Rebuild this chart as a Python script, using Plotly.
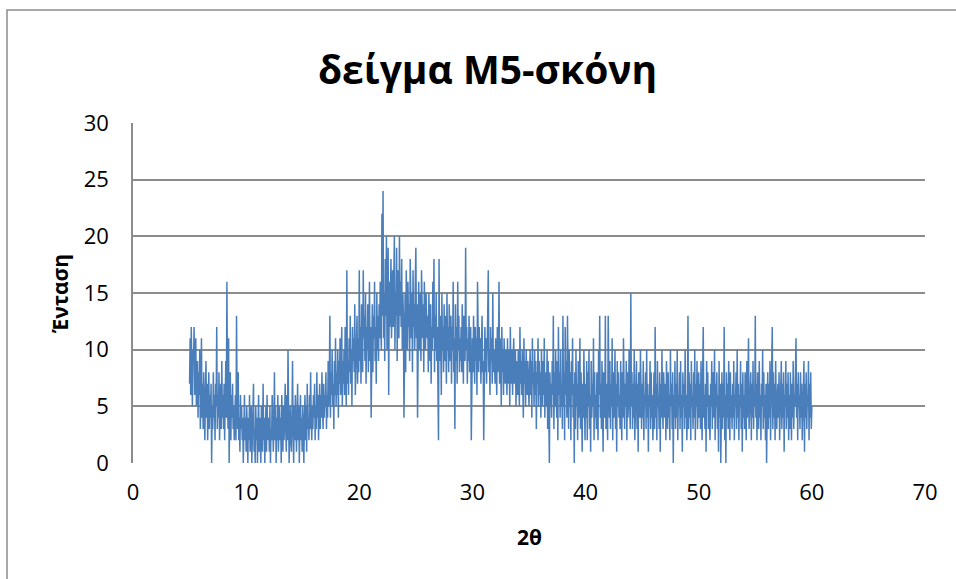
import plotly.graph_objects as go

# Scan settings (2θ grid)
start_2theta = 5.0
step_2theta = 0.05

# Intensity readings, one row per degree of 2θ (20 readings per row)
rows = [
    [7,11,6,12,8,5,10,9,12,6,8,11,5,7,9,4,8,6,10,3],          # 5
    [5,11,4,7,3,8,5,2,6,9,4,7,2,5,8,3,6,4,7,0],               # 6
    [5,3,8,4,6,2,7,5,12,3,6,4,8,2,5,7,3,9,4,6],               # 7
    [3,7,2,5,9,4,16,6,3,11,0,5,8,2,6,4,7,3,5,2],              # 8
    [4,6,2,13,5,3,8,2,4,1,6,3,5,2,4,0,3,6,2,4],               # 9
    [1,5,3,0,4,2,6,1,3,5,0,2,4,7,1,3,0,5,2,4],                # 10
    [0,3,6,1,4,2,0,5,3,1,7,2,4,0,3,5,1,6,2,3],                # 11
    [4,1,5,0,3,2,6,4,1,3,8,2,5,0,4,2,6,1,3,5],                # 12
    [2,4,0,6,3,1,5,2,4,7,3,1,6,2,10,4,0,3,5,2],               # 13
    [1,4,9,3,0,5,2,6,3,1,4,7,2,5,0,3,6,2,4,1],                # 14
    [5,3,0,4,6,2,5,1,7,3,4,2,6,3,8,4,2,5,3,6],                # 15
    [4,7,2,5,3,8,4,6,2,5,7,3,6,4,8,5,3,7,4,6],                # 16
    [5,8,3,6,4,9,5,7,13,4,8,6,10,5,7,3,9,6,11,5],             # 17
    [8,6,10,4,9,7,11,6,8,12,5,9,7,10,6,12,8,5,17,7],          # 18
    [9,6,11,8,13,7,10,5,12,9,11,8,14,6,10,9,13,7,11,8],       # 19
    [17,9,12,7,14,10,8,17,11,13,9,15,7,12,10,14,8,11,16,9],   # 20
    [12,4,10,14,8,13,11,16,9,12,7,15,10,13,9,14,11,16,12,10], # 21
    [22,13,24,11,15,9,18,13,20,10,14,19,6,16,12,15,18,11,14,17], # 22
    [12,16,20,10,15,13,19,9,17,14,11,20,13,16,12,18,10,15,13,4], # 23
    [11,15,8,17,13,10,16,12,14,9,18,13,11,15,8,17,12,14,10,16], # 24
    [19,11,14,4,13,16,10,15,12,9,17,13,11,14,8,16,12,10,15,13], # 25
    [11,13,8,15,10,9,14,7,12,10,16,11,18,8,13,10,15,9,12,7],   # 26
    [2,18,9,13,11,6,15,10,12,8,14,9,13,11,7,15,10,12,8,14],    # 27
    [11,9,13,7,12,10,16,8,11,3,14,9,12,7,16,10,13,8,11,9],     # 28
    [12,8,14,10,7,13,11,9,19,10,12,7,11,9,13,8,10,12,2,9],     # 29
    [11,8,13,10,7,12,9,11,6,16,10,8,12,9,11,7,10,13,8,9],      # 30
    [2,10,12,8,11,7,9,13,17,8,10,6,12,9,11,7,15,8,10,9],       # 31
    [7,11,9,6,12,8,10,16,7,11,9,5,12,8,10,6,11,9,7,10],        # 32
    [8,6,11,7,10,9,5,12,8,7,10,6,9,11,7,8,10,5,9,7],           # 33
    [6,10,8,5,12,7,9,6,10,8,4,11,7,9,5,10,8,6,9,7],            # 34
    [5,8,10,6,9,4,11,7,8,5,10,6,9,3,8,7,11,5,9,6],             # 35
    [8,4,10,7,5,9,6,11,4,8,7,5,10,3,9,6,0,8,5,7],              # 36
    [4,9,6,13,3,8,5,10,7,4,9,2,12,6,8,4,10,5,7,3],             # 37
    [13,5,8,2,12,6,9,4,13,7,3,10,5,8,2,9,6,11,4,7],            # 38
    [0,8,3,10,5,7,2,9,4,6,11,3,8,5,1,7,4,10,6,2],              # 39
    [7,4,9,2,8,5,10,3,6,1,9,4,7,5,11,2,8,4,6,3],               # 40
    [8,5,2,10,6,13,4,7,3,9,5,1,8,6,4,13,3,7,5,2],              # 41
    [13,6,4,9,3,7,5,11,2,8,4,6,10,3,7,1,9,5,8,4],              # 42
    [6,3,9,5,2,8,4,11,6,3,7,5,9,2,8,4,6,10,5,3],               # 43
    [15,5,8,3,7,4,10,2,6,5,9,3,7,1,8,5,4,10,6,3],              # 44
    [7,4,9,2,6,5,8,3,10,4,7,1,6,5,9,3,8,4,6,2],                # 45
    [5,8,3,12,4,7,2,9,5,6,3,8,1,7,4,10,5,3,8,6],               # 46
    [4,7,2,9,5,3,8,4,6,2,10,5,7,3,8,0,6,4,9,3],                # 47
    [7,4,10,2,6,5,8,3,9,4,6,1,8,5,7,3,10,4,6,2],               # 48
    [5,13,3,8,4,7,2,9,5,6,3,8,4,10,2,7,5,9,3,6],               # 49
    [8,4,7,3,9,5,2,8,12,4,6,3,7,1,9,5,8,3,6,4],                # 50
    [2,7,5,9,3,8,4,6,10,2,7,5,8,3,6,1,9,4,7,0],                # 51
    [5,8,3,7,4,12,2,6,0,8,4,7,3,9,5,2,8,4,6,3],                # 52
    [7,4,9,2,6,5,8,3,10,4,7,2,6,5,9,3,7,1,8,4],                # 53
    [6,3,8,5,2,9,4,7,11,3,6,5,8,2,7,4,9,3,6,5],                # 54
    [13,4,7,2,8,5,3,9,4,6,2,7,5,10,3,8,4,6,2,7],               # 55
    [0,5,8,3,7,4,9,2,6,5,12,3,8,4,7,2,9,5,3,6],                # 56
    [7,4,8,2,6,5,9,3,7,4,8,1,6,5,9,3,7,4,8,2],                 # 57
    [6,3,8,5,2,7,4,9,3,6,5,8,11,4,7,2,8,5,6,3],                # 58
    [8,4,7,2,6,5,9,1,7,4,8,3,6,5,9,2,7,4,8,3],                 # 59
    [5],                                                       # 60
]

intensity = [v for r in rows for v in r]
two_theta = [round(start_2theta + i * step_2theta, 3) for i in range(len(intensity))]

title_text = "δείγμα M5-σκόνη"
x_title = "2θ"
y_title = "Ένταση"
x_ticks = [0, 10, 20, 30, 40, 50, 60, 70]
y_ticks = [0, 5, 10, 15, 20, 25, 30]

FONT = "Open Sans"
GRID = "#8c8c8c"

fig = go.Figure()
fig.add_trace(go.Scatter(
    x=two_theta, y=intensity, mode="lines",
    line=dict(color="#4a7ebb", width=1.5),
    showlegend=False, hoverinfo="x+y",
))

fig.update_layout(
    width=956, height=579,
    margin=dict(l=133, r=31, t=123, b=116),
    paper_bgcolor="white", plot_bgcolor="white",
    font=dict(family=FONT, color="black"),
    title=dict(text=title_text, x=0.51, xanchor="center", y=0.879, yanchor="middle",
               font=dict(family=FONT, size=39, color="black", weight="bold")),
    xaxis=dict(range=[0, 70], tickvals=x_ticks, ticktext=[str(t) for t in x_ticks],
               showgrid=False, zeroline=False, showline=False, ticks="",
               tickfont=dict(family=FONT, size=22), ticklabelstandoff=14),
    yaxis=dict(range=[0, 30], tickvals=y_ticks, ticktext=[str(t) for t in y_ticks],
               showgrid=True, gridcolor=GRID, gridwidth=1.5, zeroline=False,
               showline=True, linecolor=GRID, linewidth=1.5, ticks="",
               tickfont=dict(family=FONT, size=22), ticklabelstandoff=18),
    annotations=[
        dict(text=x_title, x=0.5, y=-0.2176, xref="paper", yref="paper",
             showarrow=False, font=dict(family=FONT, size=21, weight="bold"),
             xanchor="center", yanchor="middle"),
        dict(text=y_title, x=-0.0922, y=0.5, xref="paper", yref="paper",
             showarrow=False, textangle=-90, font=dict(family=FONT, size=21, weight="bold"),
             xanchor="center", yanchor="middle"),
    ],
    shapes=[
        dict(type="rect", xref="paper", yref="paper",
             x0=(7 - 133) / 792, x1=2.0, y0=-2.0, y1=(463 - 10) / 340,
             line=dict(color="#8c8c8c", width=1.5), fillcolor="rgba(0,0,0,0)", layer="below"),
    ],
)

fig.write_html("out.html")
